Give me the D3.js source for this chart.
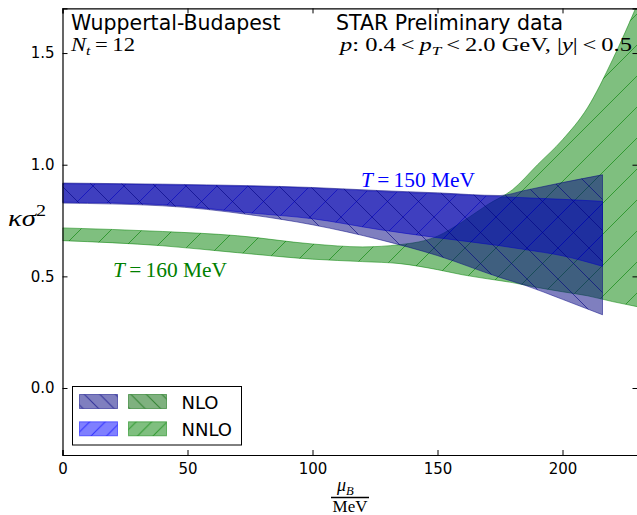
<!DOCTYPE html>
<html>
<head>
<meta charset="utf-8">
<script src="https://cdn.jsdelivr.net/npm/d3@7"></script>
<style>
  html, body { margin: 0; padding: 0; background: #fff; }
  svg { display: block; }
  .tick text { font-family: "DejaVu Sans", sans-serif; }
</style>
</head>
<body>
<svg id="chart" width="637" height="515"></svg>
<script>
// ---- data: kappa*sigma^2 vs mu_B ----
const xTicks = [0, 50, 100, 150, 200];
const yTicks = [0.0, 0.5, 1.0, 1.5];

// T = 150 MeV bands
const blueMu        = [0, 40, 75, 100, 127, 150, 175, 185, 200, 216];
const blueNLOHigh   = [0.918, 0.913, 0.906, 0.898, 0.884, 0.874, 0.862, 0.885, 0.920, 0.955];
const blueNLOLow    = [0.828, 0.816, 0.776, 0.731, 0.664, 0.593, 0.495, 0.460, 0.397, 0.328];
const blueNNLOHigh  = [0.915, 0.910, 0.903, 0.895, 0.880, 0.870, 0.857, 0.852, 0.845, 0.836];
const blueNNLOLow   = [0.832, 0.821, 0.784, 0.758, 0.709, 0.673, 0.637, 0.620, 0.592, 0.545];

// T = 160 MeV band
const greenMu       = [0, 40, 70, 100, 120, 135, 150, 160, 170, 180, 190, 200, 210, 220, 230];
const greenNNLOHigh = [0.717, 0.701, 0.682, 0.645, 0.632, 0.642, 0.680, 0.745, 0.821, 0.888, 1.000, 1.112, 1.255, 1.470, 1.720];
const greenNNLOLow  = [0.660, 0.637, 0.606, 0.577, 0.566, 0.557, 0.530, 0.507, 0.489, 0.472, 0.450, 0.431, 0.413, 0.387, 0.364];

const legendRows = ["NLO", "NNLO"];

// ---- layout ----
const svg = d3.select("#chart");
const x = d3.scaleLinear().domain([0, 230]).range([62.5, 637.5]);
const y = d3.scaleLinear().domain([-0.3, 1.7]).range([455, 8.4]);

const defs = svg.append("defs");

// hatch patterns: dir "/" or "\"
function hatch(id, dir, color, opacity, s) {
  const p = defs.append("pattern").attr("id", id)
    .attr("patternUnits", "userSpaceOnUse")
    .attr("width", s).attr("height", s);
  const d = dir === "/"
    ? `M0,${s} L${s},0 M${-s/2},${s/2} L${s/2},${-s/2} M${s/2},${s*1.5} L${s*1.5},${s/2}`
    : `M0,0 L${s},${s} M${-s/2},${s/2} L${s/2},${s*1.5} M${s/2},${-s/2} L${s*1.5},${s/2}`;
  p.append("path").attr("d", d).attr("stroke", color)
    .attr("stroke-opacity", opacity).attr("stroke-width", 1).attr("fill", "none");
}
hatch("hNLOblue", "\\", "#000080", 0.6, 31);
hatch("hNNLOblue", "/", "#0000ff", 0.6, 31);
hatch("hNNLOgreen", "/", "#008000", 0.6, 31);
hatch("lgNLOblue", "\\", "#000080", 0.6, 15.5);
hatch("lgNLOgreen", "\\", "#006400", 0.6, 15.5);
hatch("lgNNLOblue", "/", "#0000ff", 0.6, 15.5);
hatch("lgNNLOgreen", "/", "#008000", 0.6, 15.5);

defs.append("clipPath").attr("id", "plotClip")
  .append("rect").attr("x", x(0)).attr("y", y(1.7))
  .attr("width", x(230) - x(0)).attr("height", y(-0.3) - y(1.7));

const plot = svg.append("g").attr("clip-path", "url(#plotClip)");

function band(mu, lo, hi, color, hatchId) {
  const rows = mu.map((m, i) => ({ m, lo: lo[i], hi: hi[i] }));
  const area = d3.area().curve(d3.curveMonotoneX)
    .x(d => x(d.m)).y0(d => y(d.lo)).y1(d => y(d.hi));
  const path = area(rows);
  plot.append("path").attr("d", path)
    .attr("fill", color).attr("fill-opacity", 0.5)
    .attr("stroke", color).attr("stroke-opacity", 0.5).attr("stroke-width", 1);
  plot.append("path").attr("d", path).attr("fill", `url(#${hatchId})`).attr("stroke", "none");
}

// green first, then the NNLO and NLO bands for T = 150 MeV
band(greenMu, greenNNLOLow, greenNNLOHigh, "#008000", "hNNLOgreen");
band(blueMu, blueNNLOLow, blueNNLOHigh, "#0000ff", "hNNLOblue");
band(blueMu, blueNLOLow, blueNLOHigh, "#000080", "hNLOblue");

// ---- axes ----
const tickLen = 5;
const axB = svg.append("g").attr("transform", `translate(0,${y(-0.3)})`)
  .call(d3.axisBottom(x).tickValues(xTicks).tickFormat(d3.format("d")).tickSize(-tickLen).tickPadding(8));
const axT = svg.append("g").attr("transform", `translate(0,${y(1.7)})`)
  .call(d3.axisTop(x).tickValues(xTicks).tickFormat("").tickSize(-tickLen));
const axL = svg.append("g").attr("transform", `translate(${x(0)},0)`)
  .call(d3.axisLeft(y).tickValues(yTicks).tickFormat(d3.format(".1f")).tickSize(-tickLen).tickPadding(8));
const axR = svg.append("g").attr("transform", `translate(${x(230)},0)`)
  .call(d3.axisRight(y).tickValues(yTicks).tickFormat("").tickSize(-tickLen));
[axB, axT, axL, axR].forEach(a => {
  a.select(".domain").attr("stroke", "#000").attr("stroke-width", 1.2);
  a.selectAll(".tick line").attr("stroke", "#000").attr("stroke-width", 1);
  a.selectAll(".tick text").attr("font-size", 15).attr("fill", "#000");
});

// ---- math-style text helper ----
function mathText(parent, xPos, yPos, parts, size, color, fit) {
  const t = parent.append("text").attr("x", xPos).attr("y", yPos)
    .attr("font-family", "'Liberation Serif', serif").attr("font-size", size).attr("fill", color);
  parts.forEach(([s, kind]) => {
    const sp = t.append("tspan").text(s);
    if (kind.includes("i")) sp.attr("font-style", "italic");
    if (kind.includes("sub")) sp.attr("font-size", size * 0.7).attr("dy", size * 0.22);
    if (kind.includes("up")) sp.attr("dy", -size * 0.22);
    if (kind.includes("sup")) sp.attr("font-size", size * 0.7).attr("dy", -size * 0.4);
  });
  if (fit) t.attr("textLength", fit).attr("lengthAdjust", "spacingAndGlyphs");
  return t;
}

// headers
svg.append("text").attr("x", 71).attr("y", 29.5)
  .attr("font-family", "'DejaVu Sans', sans-serif").attr("font-size", 20.5)
  .text("Wuppertal-Budapest");
svg.append("text").attr("x", 336).attr("y", 29.5)
  .attr("font-family", "'DejaVu Sans', sans-serif").attr("font-size", 20.5)
  .text("STAR Preliminary data");
mathText(svg, 71, 51, [["N", "i"], ["t", "i sub"], ["\u2009=\u200912", "r up"]], 19, "#000", 64);
mathText(svg, 340, 51, [
  ["p", "i"], [": 0.4\u2009<\u2009", "r"], ["p", "i"], ["T", "i sub"],
  ["\u2009<\u20092.0 GeV, |", "r up"], ["y", "i"], ["|\u2009<\u20090.5", "r"]
], 19, "#000", 292);

// band labels
mathText(svg, 361, 187, [["T", "i"], ["\u2009=\u2009150 MeV", "r"]], 21, "#0000ff", 114);
mathText(svg, 113, 277, [["T", "i"], ["\u2009=\u2009160 MeV", "r"]], 21, "#008000", 114);

// axis labels
mathText(svg, 8, 226, [["\u03ba\u03c3", "i"], ["2", "sup"]], 24, "#000", 38);
const xl = svg.append("g");
mathText(xl, 337, 491, [["\u03bc", "i"], ["B", "i sub"]], 18, "#000");
xl.append("line").attr("x1", 331).attr("x2", 369).attr("y1", 497.5).attr("y2", 497.5)
  .attr("stroke", "#000").attr("stroke-width", 1.3);
xl.append("text").attr("x", 350).attr("y", 512).attr("text-anchor", "middle")
  .attr("font-family", "'Liberation Serif', serif").attr("font-size", 17).text("MeV");

// ---- legend ----
const lg = svg.append("g");
lg.append("rect").attr("x", 72.5).attr("y", 386.5).attr("width", 169).attr("height", 58.5)
  .attr("fill", "#fff").attr("stroke", "#000").attr("stroke-width", 1);
const legendFill = [
  [["#000080", "lgNLOblue"], ["#006400", "lgNLOgreen"]],
  [["#0000ff", "lgNNLOblue"], ["#008000", "lgNNLOgreen"]]
];
legendRows.forEach((name, r) => {
  const yy = 394.5 + r * 27.3;
  legendFill[r].forEach(([c, h], k) => {
    const xx = 79.5 + k * 49;
    lg.append("rect").attr("x", xx).attr("y", yy).attr("width", 38).attr("height", 14)
      .attr("fill", c).attr("fill-opacity", 0.5).attr("stroke", c).attr("stroke-opacity", 0.5);
    lg.append("rect").attr("x", xx).attr("y", yy).attr("width", 38).attr("height", 14)
      .attr("fill", `url(#${h})`);
  });
  lg.append("text").attr("x", 181.5).attr("y", yy + 14)
    .attr("font-family", "'DejaVu Sans', sans-serif").attr("font-size", 18).text(name);
});
</script>
</body>
</html>
